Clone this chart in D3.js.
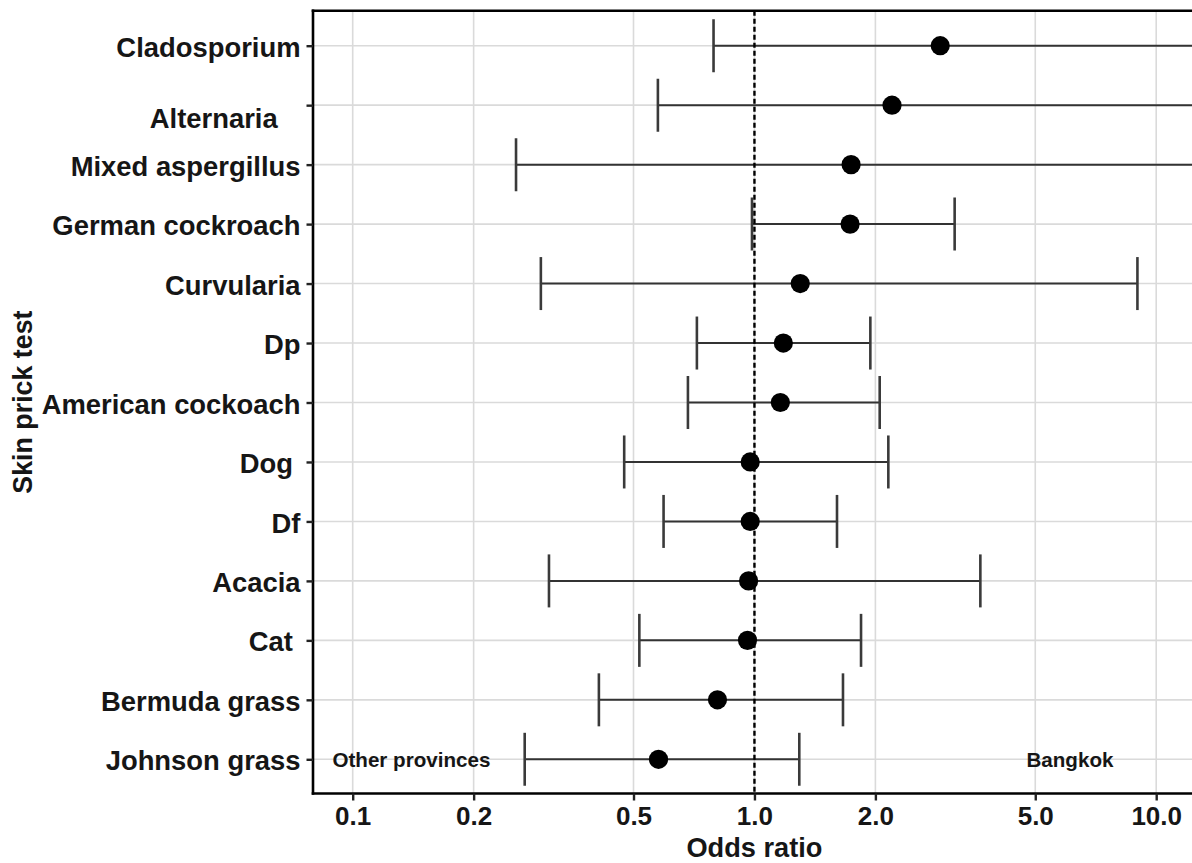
<!DOCTYPE html>
<html>
<head>
<meta charset="utf-8">
<script src="https://cdn.jsdelivr.net/npm/d3@7"></script>
<style>
  html, body { margin: 0; padding: 0; background: #fff; }
  svg { display: block; }
  text { font-family: "Liberation Sans", Arial, sans-serif; font-weight: bold; fill: #161616; }
</style>
</head>
<body>
<svg id="chart" width="1192" height="863"></svg>
<script>
// ---- data ----
const categories = ["Cladosporium", "\nAlternaria   ", "Mixed aspergillus", "German cockroach", "Curvularia",
  "Dp", "American cockoach", "Dog ", "Df", "Acacia", "Cat ", "Bermuda grass", "Johnson grass"];
const oddsRatio = [2.90, 2.20, 1.74, 1.73, 1.30, 1.18, 1.16, 0.976, 0.976, 0.967, 0.961, 0.809, 0.577];
const ciLower   = [0.791, 0.575, 0.255, 0.986, 0.294, 0.719, 0.683, 0.474, 0.594, 0.308, 0.517, 0.410, 0.268];
const ciUpper   = [14.0, 13.5, 13.0, 3.15, 8.98, 1.943, 2.05, 2.154, 1.605, 3.65, 1.842, 1.661, 1.293];
const xTicks = [0.1, 0.2, 0.5, 1.0, 2.0, 5.0, 10.0];
const xTickLabels = ["0.1", "0.2", "0.5", "1.0", "2.0", "5.0", "10.0"];
const refValue = 1.0;
const annotations = [{label: "Other provinces", x: 0.14}, {label: "Bangkok", x: 6.1}];

// ---- layout ----
const W = 1192, H = 863;
const panel = {left: 313, right: 1215, top: 10.7, bottom: 793.5};
const svg = d3.select("#chart");

const x = d3.scaleLog().domain([0.1, 10]).range([352.7, 1156.2]);
const y = d3.scalePoint().domain(categories).range([45.7, 759.3]);

const rows = categories.map((c, i) => ({cat: c, or: oddsRatio[i], lo: ciLower[i], hi: ciUpper[i]}));

const g = svg.append("g");
svg.append("defs").append("clipPath").attr("id", "pclip")
  .append("rect").attr("x", panel.left).attr("y", panel.top)
  .attr("width", panel.right - panel.left).attr("height", panel.bottom - panel.top);

const pg = g.append("g").attr("clip-path", "url(#pclip)");

// grid
pg.selectAll("line.vgrid").data(xTicks).join("line")
  .attr("x1", d => x(d)).attr("x2", d => x(d))
  .attr("y1", panel.top).attr("y2", panel.bottom)
  .attr("stroke", "#dadada").attr("stroke-width", 1.6);
pg.selectAll("line.hgrid").data(categories).join("line")
  .attr("x1", panel.left).attr("x2", panel.right)
  .attr("y1", d => y(d)).attr("y2", d => y(d))
  .attr("stroke", "#dadada").attr("stroke-width", 1.6);

// error bars
pg.selectAll("line.eb").data(rows).join("line")
  .attr("x1", d => x(d.lo)).attr("x2", d => x(d.hi))
  .attr("y1", d => y(d.cat)).attr("y2", d => y(d.cat))
  .attr("stroke", "#333").attr("stroke-width", 2);
const capH = 26.5;
pg.selectAll("line.capl").data(rows).join("line")
  .attr("x1", d => x(d.lo)).attr("x2", d => x(d.lo))
  .attr("y1", d => y(d.cat) - capH).attr("y2", d => y(d.cat) + capH)
  .attr("stroke", "#3a3a3a").attr("stroke-width", 2.6);
pg.selectAll("line.caph").data(rows).join("line")
  .attr("x1", d => x(d.hi)).attr("x2", d => x(d.hi))
  .attr("y1", d => y(d.cat) - capH).attr("y2", d => y(d.cat) + capH)
  .attr("stroke", "#3a3a3a").attr("stroke-width", 2.6);

// reference line
pg.append("line")
  .attr("x1", x(refValue)).attr("x2", x(refValue))
  .attr("y1", panel.top).attr("y2", panel.bottom)
  .attr("stroke", "#000").attr("stroke-width", 2.4).attr("stroke-dasharray", "5,3");

// points
pg.selectAll("circle.pt").data(rows).join("circle")
  .attr("cx", d => x(d.or)).attr("cy", d => y(d.cat)).attr("r", 9.6)
  .attr("fill", "#000");

// annotations
pg.selectAll("text.ann").data(annotations).join("text")
  .attr("x", d => x(d.x)).attr("y", y(categories[categories.length - 1]))
  .attr("dy", "0.35em").attr("text-anchor", "middle")
  .style("font-size", "20.6px")
  .text(d => d.label);

// panel borders: left axis, bottom axis, top border
g.append("line").attr("x1", panel.left).attr("x2", panel.left)
  .attr("y1", panel.top - 1.3).attr("y2", panel.bottom + 1.3)
  .attr("stroke", "#000").attr("stroke-width", 2.6);
g.append("line").attr("x1", panel.left - 1.3).attr("x2", W)
  .attr("y1", panel.bottom).attr("y2", panel.bottom)
  .attr("stroke", "#000").attr("stroke-width", 2.6);
g.append("line").attr("x1", panel.left - 1.3).attr("x2", W)
  .attr("y1", panel.top).attr("y2", panel.top)
  .attr("stroke", "#000").attr("stroke-width", 2.6);

// axes via d3
const xAxis = d3.axisBottom(x).tickValues(xTicks)
  .tickFormat((d, i) => xTickLabels[i]).tickSize(7).tickPadding(6);
const gx = g.append("g").attr("transform", `translate(0,${panel.bottom})`).call(xAxis);
gx.select(".domain").remove();
gx.selectAll(".tick line").attr("stroke", "#222").attr("stroke-width", 2.4);
gx.selectAll(".tick text").style("font-size", "26px")
  .style("font-family", '"Liberation Sans", Arial, sans-serif').style("font-weight", "bold")
  .attr("fill", "#161616").attr("dy", "0.72em");

const yAxis = d3.axisLeft(y).tickSize(6.5).tickPadding(6).tickFormat(() => "");
const gy = g.append("g").attr("transform", `translate(${panel.left},0)`).call(yAxis);
gy.select(".domain").remove();
gy.selectAll(".tick line").attr("stroke", "#222").attr("stroke-width", 2.4);
const lineH = 24;
gy.selectAll(".tick").each(function(d) {
  const lines = d.split("\n");
  const t = d3.select(this).append("text")
    .attr("x", -12.5).attr("text-anchor", "end")
    .attr("xml:space", "preserve")
    .style("font-size", "27.4px").attr("fill", "#161616");
  const n = lines.length;
  lines.forEach((ln, k) => {
    t.append("tspan").attr("x", -12.5)
      .attr("y", (k - (n - 1) / 2) * lineH + 1)
      .attr("dy", "0.35em")
      .text(ln);
  });
});

// axis titles
g.append("text").attr("x", x(1)).attr("y", 857)
  .attr("text-anchor", "middle").style("font-size", "27.2px").text("Odds ratio");
g.append("text").attr("transform", `translate(32,${(panel.top + panel.bottom) / 2}) rotate(-90)`)
  .attr("text-anchor", "middle").style("font-size", "26.8px").text("Skin prick test");
</script>
</body>
</html>
